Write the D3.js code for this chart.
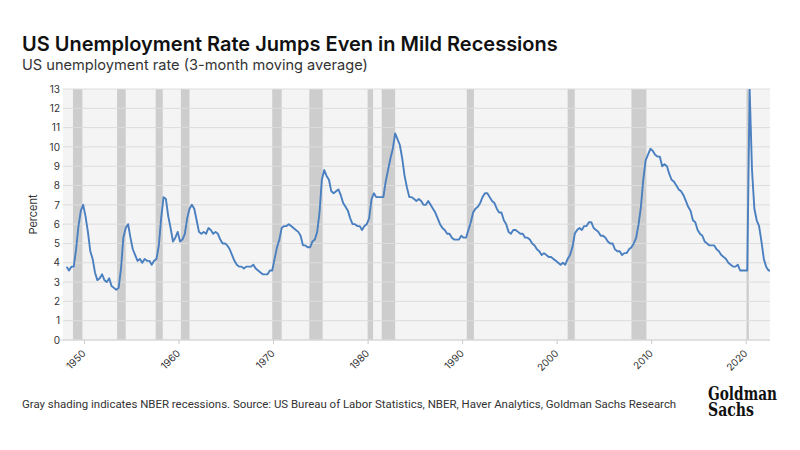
<!DOCTYPE html>
<html><head><meta charset="utf-8">
<script src="https://cdn.jsdelivr.net/npm/d3@7"></script>
<style>
body{margin:0;background:#fff;}
svg{display:block;font-family:Inter,Roboto,"Noto Sans",sans-serif;}
</style></head>
<body>
<svg id="c" width="800" height="450"></svg>
<script>
// Quarterly values of the 3-month moving average (value at quarter-end month), 1948Q1..2022Q3
const startYear = 1948;
const rate = [
3.8,3.6,3.8,3.8, 4.7,5.9,6.7,7.0, 6.4,5.6,4.6,4.2, 3.5,3.1,3.2,3.4, 3.1,3.0,3.2,2.8,
2.7,2.6,2.7,3.7, 5.3,5.8,6.0,5.3, 4.7,4.4,4.1,4.2, 4.0,4.2,4.1,4.1, 3.9,4.1,4.2,4.9,
6.3,7.4,7.3,6.4, 5.8,5.1,5.3,5.6, 5.1,5.2,5.5,6.3, 6.8,7.0,6.8,6.2, 5.6,5.5,5.6,5.5,
5.8,5.7,5.5,5.6, 5.5,5.2,5.0,5.0, 4.9,4.7,4.4,4.1, 3.9,3.8,3.8,3.7, 3.8,3.8,3.8,3.9,
3.7,3.6,3.5,3.4, 3.4,3.4,3.6,3.6, 4.2,4.8,5.2,5.8, 5.9,5.9,6.0,5.9, 5.8,5.7,5.6,5.4,
4.9,4.9,4.8,4.8, 5.1,5.2,5.6,6.6, 8.3,8.8,8.5,8.3, 7.7,7.6,7.7,7.8, 7.5,7.1,6.9,6.7,
6.3,6.0,6.0,5.9, 5.9,5.7,5.9,6.0, 6.3,7.3,7.6,7.4, 7.4,7.4,7.4,8.2, 8.8,9.4,9.9,10.7,
10.4,10.1,9.4,8.5, 7.9,7.4,7.4,7.3, 7.2,7.3,7.2,7.0, 7.0,7.2,7.0,6.8, 6.6,6.3,6.0,5.8,
5.7,5.5,5.5,5.3, 5.2,5.2,5.2,5.4, 5.3,5.3,5.7,6.1, 6.6,6.8,6.9,7.1, 7.4,7.6,7.6,7.4,
7.2,7.1,6.8,6.6, 6.6,6.2,6.0,5.6, 5.5,5.7,5.7,5.6, 5.5,5.5,5.3,5.3, 5.2,5.0,4.9,4.7,
4.6,4.4,4.5,4.4, 4.3,4.3,4.2,4.1, 4.0,3.9,4.0,3.9, 4.2,4.4,4.8,5.5, 5.7,5.8,5.7,5.9,
5.9,6.1,6.1,5.8, 5.7,5.6,5.4,5.4, 5.3,5.1,5.0,5.0, 4.7,4.6,4.6,4.4, 4.5,4.5,4.7,4.8,
5.0,5.3,6.0,6.9, 8.3,9.3,9.6,9.9, 9.8,9.6,9.5,9.5, 9.0,9.1,9.0,8.6, 8.3,8.2,8.0,7.8,
7.7,7.5,7.2,6.9, 6.7,6.2,6.1,5.7, 5.5,5.4,5.1,5.0, 4.9,4.9,4.9,4.7, 4.6,4.4,4.3,4.2,
4.0,3.9,3.8,3.8, 3.9,3.6,3.6,3.6, 3.6,13.0,8.8,6.8, 6.2,5.9,5.1,4.2, 3.8,3.6,3.6
];
// NBER recessions (peak month, trough month)
const recStart = ["1948-11","1953-07","1957-08","1960-04","1969-12","1973-11","1980-01","1981-07","1990-07","2001-03","2007-12","2020-02"];
const recEnd   = ["1949-10","1954-05","1958-04","1961-02","1970-11","1975-03","1980-07","1982-11","1991-03","2001-11","2009-06","2020-04"];
const yTicks = [0,1,2,3,4,5,6,7,8,9,10,11,12,13];
const xTickYears = [1950,1960,1970,1980,1990,2000,2010,2020];

const svg = d3.select("#c");
const L = 63, R = 770, T = 89, B = 340;
const parseM = d3.timeParse("%Y-%m");
const x = d3.scaleTime().domain([new Date(1950,0,1), new Date(2020,0,1)]).range([84, 745.7]);
const y = d3.scaleLinear().domain([0,13]).range([B, T]);

const data = rate.map((v,i)=>({date:new Date(startYear + Math.floor(i/4), (i%4)*3+2, 1), v}));

// Titles
svg.append("text").attr("x",22).attr("y",51).attr("font-size",20).attr("font-weight",600)
  .attr("fill","#111").text("US Unemployment Rate Jumps Even in Mild Recessions");
svg.append("text").attr("x",22).attr("y",70).attr("font-size",14.6).attr("fill","#333")
  .text("US unemployment rate (3-month moving average)");

// Plot background
svg.append("rect").attr("x",L).attr("y",T).attr("width",R-L).attr("height",B-T).attr("fill","#f4f4f4");

// Recession bands
svg.append("g").selectAll("rect").data(recStart.map((s,i)=>[parseM(s), d3.timeMonth.offset(parseM(recEnd[i]),1)]))
  .join("rect")
  .attr("x",d=>x(d[0])).attr("width",d=>Math.max(2,x(d[1])-x(d[0])))
  .attr("y",T).attr("height",B-T).attr("fill","#cdcdcd");

// Gridlines
svg.append("g").selectAll("line").data(yTicks).join("line")
  .attr("x1",L).attr("x2",R).attr("y1",d=>y(d)).attr("y2",d=>y(d))
  .attr("stroke","#dcdcdc").attr("stroke-width",1);

// Y axis labels
const ya = svg.append("g").attr("transform",`translate(${L},0)`)
  .call(d3.axisLeft(y).tickValues(yTicks).tickSize(0).tickPadding(3).tickFormat(d3.format("d")));
ya.select(".domain").remove();
ya.selectAll("text").attr("font-size",10).attr("fill","#333").style("font-family","Inter,Roboto,sans-serif");

svg.append("text").attr("transform",`translate(37,${(T+B)/2}) rotate(-90)`).attr("text-anchor","middle")
  .attr("font-size",11).attr("fill","#333").text("Percent");

// X axis
const xa = svg.append("g").attr("transform",`translate(0,${B})`)
  .call(d3.axisBottom(x).tickValues(xTickYears.map(yv=>new Date(yv,0,1))).tickSize(4).tickFormat(d3.timeFormat("%Y")));
xa.select(".domain").attr("d",`M${L-3},0H${R}`).attr("stroke","#d6d6d6");
xa.selectAll(".tick line").attr("stroke","#cccccc");
xa.selectAll("text").attr("font-size",10).attr("fill","#333").style("font-family","Inter,Roboto,sans-serif")
  .attr("text-anchor","end").attr("dy",null).attr("y",0)
  .attr("transform","translate(2,14) rotate(-45)");

// Line (clipped to plot)
svg.append("clipPath").attr("id","clip").append("rect").attr("x",L).attr("y",T).attr("width",R-L).attr("height",B-T);
svg.append("path").datum(data).attr("clip-path","url(#clip)")
  .attr("fill","none").attr("stroke","#4a7fc0").attr("stroke-width",1.9).attr("stroke-linejoin","round")
  .attr("d", d3.line().x(d=>x(d.date)).y(d=>y(d.v)));

// Footer
svg.append("text").attr("x",22).attr("y",408).attr("font-size",11.45).attr("fill","#333")
  .style("font-family","Roboto,Inter,sans-serif")
  .text("Gray shading indicates NBER recessions. Source: US Bureau of Labor Statistics, NBER, Haver Analytics, Goldman Sachs Research");

// Logo (one text, two lines)
const logo = svg.append("text").style("font-family","'DejaVu Serif Condensed','DejaVu Serif',serif")
  .attr("font-weight","bold").attr("fill","#111").attr("font-size",18.5);
logo.append("tspan").attr("x",708).attr("y",400).attr("textLength",69).attr("lengthAdjust","spacingAndGlyphs").text("Goldman");
logo.append("tspan").attr("x",708).attr("y",416).attr("textLength",46).attr("lengthAdjust","spacingAndGlyphs").text("Sachs");
</script>
</body></html>
